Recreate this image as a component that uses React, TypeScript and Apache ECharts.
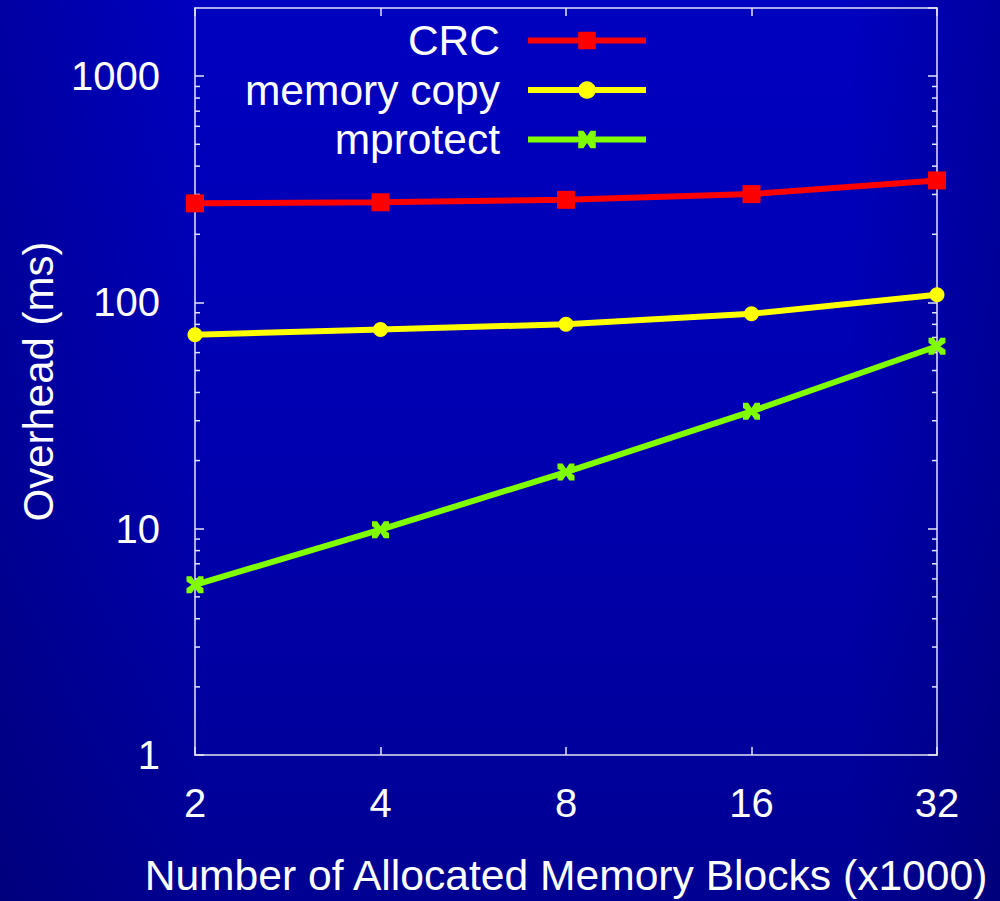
import React, { useEffect, useRef } from "react";
import * as echarts from "echarts";

const categories = ["2", "4", "8", "16", "32"];
const crcValues = [274, 277, 284, 301, 346];
const memcopyValues = [72, 76, 80, 89, 108];
const mprotectValues = [5.65, 9.9, 17.8, 33, 64];
const minorTickValues = [2, 3, 4, 5, 6, 7, 8, 9, 20, 30, 40, 50, 60, 70, 80, 90, 200, 300, 400, 500, 600, 700, 800, 900];
const seriesNames = ["CRC", "memory copy", "mprotect"];

const FONT = "'Liberation Sans', Arial, Helvetica, sans-serif";
const FRAME = "#e4e4f4";
const XMARK = "path://M0,0 L3,0 L5,3 L7,0 L10,0 L10,3 L7,5 L10,7 L10,10 L7,10 L5,7 L3,10 L0,10 L0,7 L3,5 L0,3 Z";
const LINE_W = 6;

export default function App() {
  const ref = useRef<HTMLDivElement>(null);
  useEffect(() => {
    if (!ref.current) return;
    const chart = echarts.init(ref.current, undefined, { renderer: "svg" });
    const legendRows = [40, 89.5, 139];
    const mkLegend = (i: number) => ({
      data: [seriesNames[i]],
      right: 351,
      top: legendRows[i] - 21,
      align: "right",
      orient: "vertical",
      padding: 0,
      itemWidth: 118,
      itemHeight: 22,
      selectedMode: false,
      lineStyle: { width: LINE_W },
      textStyle: { color: "#ffffff", fontSize: 42.5, fontFamily: FONT, padding: [0, 23, 0, 0], lineHeight: 42 },
    });
    const option: any = {
      animation: false,
      backgroundColor: "transparent",
      textStyle: { fontFamily: FONT },
      legend: [mkLegend(0), mkLegend(1), mkLegend(2)],
      grid: { left: 195, right: 63, top: 8, bottom: 144, containLabel: false },
      xAxis: [
        {
          type: "category",
          data: categories,
          boundaryGap: false,
          position: "bottom",
          name: "Number of Allocated Memory Blocks (x1000)",
          nameLocation: "middle",
          nameGap: 98,
          nameTextStyle: { color: "#ffffff", fontSize: 42.6, fontFamily: FONT },
          axisLine: { show: true, lineStyle: { color: FRAME, width: 1.5 } },
          axisTick: { show: true, inside: true, length: 8, lineStyle: { color: FRAME, width: 1.5 } },
          axisLabel: { color: "#ffffff", fontSize: 40, fontFamily: FONT, margin: 28 },
          splitLine: { show: false },
        },
        {
          type: "category",
          data: categories,
          boundaryGap: false,
          position: "top",
          axisLine: { show: true, lineStyle: { color: FRAME, width: 1.5 } },
          axisTick: { show: true, inside: true, length: 8, lineStyle: { color: FRAME, width: 1.5 } },
          axisLabel: { show: false },
          splitLine: { show: false },
        },
      ],
      yAxis: [
        {
          type: "log",
          logBase: 10,
          min: 1,
          max: 2000,
          position: "left",
          name: "Overhead (ms)",
          nameLocation: "middle",
          nameGap: 136,
          nameTextStyle: { color: "#ffffff", fontSize: 42, fontFamily: FONT },
          axisLine: { show: true, lineStyle: { color: FRAME, width: 1.5 } },
          axisTick: { show: true, inside: true, length: 9, lineStyle: { color: FRAME, width: 1.5 } },
          axisLabel: {
            color: "#ffffff",
            fontSize: 40,
            fontFamily: FONT,
            margin: 35,
            showMaxLabel: false,
            formatter: (v: number) => {
              const l = Math.log10(v);
              return Math.abs(l - Math.round(l)) < 1e-6 ? String(Math.round(v)) : "";
            },
          },
          splitLine: { show: false },
        },
        {
          type: "log",
          logBase: 10,
          min: 1,
          max: 2000,
          position: "right",
          axisLine: { show: true, lineStyle: { color: FRAME, width: 1.5 } },
          axisTick: { show: true, inside: true, length: 9, lineStyle: { color: FRAME, width: 1.5 } },
          axisLabel: { show: false },
          splitLine: { show: false },
        },
      ],
      series: [
        {
          name: "CRC",
          type: "line",
          data: crcValues,
          symbol: "rect",
          symbolSize: 18,
          color: "#ff0000",
          lineStyle: { color: "#ff0000", width: LINE_W },
          itemStyle: { color: "#ff0000" },
          z: 5,
        },
        {
          name: "memory copy",
          type: "line",
          data: memcopyValues,
          symbol: "circle",
          symbolSize: 15,
          color: "#ffff00",
          lineStyle: { color: "#ffff00", width: LINE_W },
          itemStyle: { color: "#ffff00" },
          z: 5,
        },
        {
          name: "mprotect",
          type: "line",
          data: mprotectValues,
          symbol: XMARK,
          symbolSize: 17,
          color: "#80ff00",
          lineStyle: { color: "#80ff00", width: LINE_W },
          itemStyle: { color: "#80ff00" },
          z: 5,
        },
        {
          name: "minorTicks",
          type: "custom",
          silent: true,
          xAxisIndex: 0,
          yAxisIndex: 0,
          data: minorTickValues.map((v) => [0, v]),
          encode: { x: 0, y: 1 },
          z: 1,
          renderItem: (params: any, api: any) => {
            const y = api.coord([0, api.value(1)])[1];
            const cs = params.coordSys;
            return {
              type: "group",
              children: [
                { type: "line", shape: { x1: cs.x, y1: y, x2: cs.x + 5, y2: y }, style: { stroke: FRAME, lineWidth: 1.5 } },
                { type: "line", shape: { x1: cs.x + cs.width - 5, y1: y, x2: cs.x + cs.width, y2: y }, style: { stroke: FRAME, lineWidth: 1.5 } },
              ],
            };
          },
        },
      ],
    };
    chart.setOption(option);
    return () => chart.dispose();
  }, []);
  return (
    <div
      ref={ref}
      style={{
        position: "fixed",
        left: 0,
        top: 0,
        width: 1000,
        height: 901,
        background:
          "linear-gradient(to right, rgba(0,0,30,0.18) 0%, rgba(0,0,0,0) 20%, rgba(0,0,0,0) 85%, rgba(0,0,30,0.2) 100%), linear-gradient(to bottom, #0000c0 0%, #0000b0 50%, #000092 100%)",
      }}
    />
  );
}
